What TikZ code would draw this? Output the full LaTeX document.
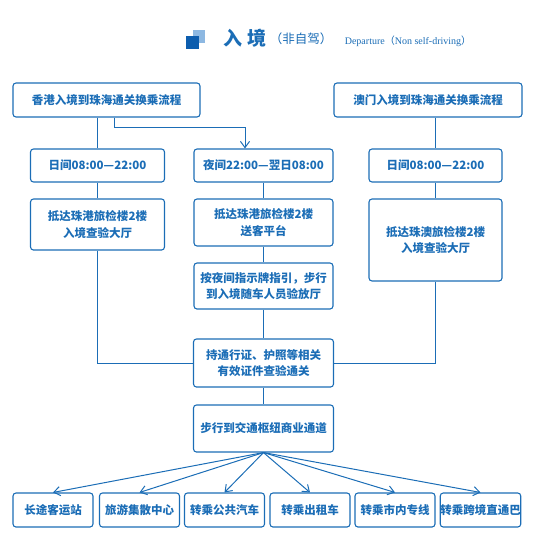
\documentclass[tikz,border=0pt]{standalone}
\usepackage{fontspec}
\setmainfont{Noto Sans CJK SC}
\newfontfamily\enfont{Liberation Serif}
\usepackage{tikz}
\usetikzlibrary{positioning,arrows.meta,calc}
\definecolor{hzblue}{HTML}{1B6DB6}
\definecolor{hzdark}{HTML}{0D5DAE}
\definecolor{hzlight}{HTML}{8DB8E2}

\begin{document}
\begin{tikzpicture}[x=1pt,y=-1pt,
  flow/.style={draw=hzblue,line width=1.1pt,rounded corners=3pt,align=center,text=hzblue,
    inner sep=0pt,font=\fontsize{11.5}{16.5}\selectfont\bfseries},
  link/.style={draw=hzblue,line width=1pt},
  arr/.style={link,-{Straight Barb[length=2.2mm,width=3.2mm]}}]
  \useasboundingbox (0,0) rectangle (553,547);
  % title
  \fill[hzlight] (193,30) rectangle (205,43);
  \fill[hzdark] (186,36) rectangle (199,49);
  \node (ttl) at (245,38) [text=hzblue,font=\fontsize{19}{19}\selectfont\bfseries] {入\hspace{5pt}境};
  \node (ttlsub) at (301,39) [text=hzblue,font=\fontsize{12.5}{12.5}\selectfont] {（非自驾）};
  \node (ttlen) at (408,41) [text=hzblue,font=\fontsize{10}{10}\selectfont] {{\enfont Departure}（{\enfont Non self-driving}）};
  % sources
  \node[flow,minimum width=187pt,minimum height=34pt] (hk) at (106.5,100) {香港入境到珠海通关换乘流程};
  \node[flow,minimum width=188pt,minimum height=34pt] (mo) at (428,100) {澳门入境到珠海通关换乘流程};
  % time slots
  \node[flow,minimum width=134pt,minimum height=33pt] (dayL) at (97.5,165.5) {日间08:00—22:00};
  \node[flow,minimum width=139pt,minimum height=33pt] (night) at (263.5,165.5) {夜间22:00—翌日08:00};
  \node[flow,minimum width=133pt,minimum height=33pt] (dayR) at (435.5,165.5) {日间08:00—22:00};
  % arrival
  \node[flow,minimum width=134pt,minimum height=51pt] (arrL) at (97.5,224.5) {抵达珠港旅检楼2楼\\入境查验大厅};
  \node[flow,minimum width=139pt,minimum height=47pt] (plat) at (263.5,222.5) {抵达珠港旅检楼2楼\\送客平台};
  \node[flow,minimum width=133pt,minimum height=82pt] (arrR) at (435.5,240) {抵达珠澳旅检楼2楼\\入境查验大厅};
  \node[flow,minimum width=139pt,minimum height=46pt] (walk) at (263.5,286) {按夜间指示牌指引，步行\\到入境随车人员验放厅};
  % checks
  \node[flow,minimum width=140pt,minimum height=48pt] (check) at (263.5,363) {持通行证、护照等相关\\有效证件查验通关};
  \node[flow,minimum width=140pt,minimum height=47pt] (corr) at (263.5,428.5) {步行到交通枢纽商业通道};
  % transfers
  \foreach \name/\x/\txt in {coach/53/长途客运站,tour/139.5/旅游集散中心,bus/224.5/转乘公共汽车,
      taxi/310/转乘出租车,city/395/转乘市内专线,cross/480.5/转乘跨境直通巴}
    \node[flow,minimum width=80pt,minimum height=34pt] (\name) at (\x,510) {\txt};
  % links
  \draw[link] (dayL.north |- hk.south) -- (dayL.north);
  \coordinate (hkbend) at (245,127);
  \draw[arr] ([xshift=7.5pt]hk.south) |- (hkbend) -- (hkbend |- night.north);
  \draw[link] (dayR.north |- mo.south) -- (dayR.north);
  \draw[link] (dayL) -- (arrL);
  \draw[link] (dayR) -- (arrR);
  \draw[link] (night) -- (plat);
  \draw[link] (plat) -- (walk);
  \draw[link] (walk) -- (check);
  \draw[link] (check) -- (corr);
  \draw[link] (arrL.south) |- (check.west);
  \draw[link] (arrR.south) |- (check.east);
  \foreach \name in {coach,tour,bus,taxi,city,cross}
    \draw[arr] (corr.south) -- (\name.north);
\end{tikzpicture}
\end{document}
